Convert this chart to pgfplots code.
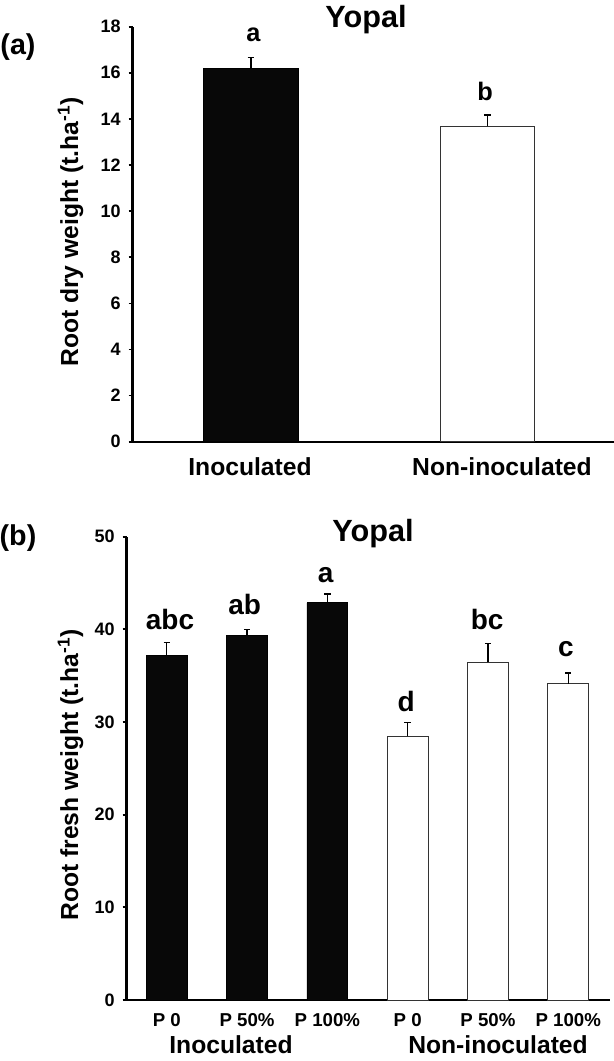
\documentclass[border=0pt]{standalone}
\usepackage{pgfplots}
\pgfplotsset{compat=1.18}
\usepackage{fontspec}
\setmainfont{Liberation Sans}
\newcommand\fs[1]{\fontsize{#1}{#1}\selectfont\bfseries}
\begin{document}
\begin{tikzpicture}
\useasboundingbox (0,0) rectangle (460.5pt,-795.75pt);
\pgfplotsset{
  common/.style={
    scale only axis, anchor=south west,
    axis x line*=bottom, axis y line*=left,
    axis line style={-, line width=1.8pt, black},
    ymin=0,
    tick align=outside, major tick length=3pt,
    ytick style={line width=1.3pt, black},
    xtick style={draw=none},
    /pgf/number format/assume math mode=true,
    yticklabel style={font=\fs{13.5}, xshift=-2.5pt},
    ybar, clip=false,
  },
  blackbar/.style={fill=black!97, draw=black, line width=0.6pt, bar shift=0pt,
    error bars/.cd, y dir=plus, y explicit,
    error bar style={line width=1pt, black},
    error mark options={rotate=90, mark size=2.4pt, line width=1pt, black}},
  whitebar/.style={fill=white, draw=black!80, line width=0.75pt, bar shift=0pt,
    error bars/.cd, y dir=plus, y explicit,
    error bar style={line width=1pt, black},
    error mark options={rotate=90, mark size=2.4pt, line width=1pt, black}},
}
% ---------- panel (a)
\begin{axis}[common, at={(99.5pt,-331.3pt)}, width=361pt, height=311.3pt,
  xmin=-0.5, xmax=1.535, ymax=18, ytick={0,2,...,18}, xtick=\empty, bar width=0.4]
\addplot[blackbar] coordinates {(0,16.19) +- (0,0.48)};
\addplot[whitebar] coordinates {(1,13.68) +- (0,0.49)};
\node[anchor=base, font=\fs{19}] at (axis cs:0.01,17.35) {a};
\node[anchor=base, font=\fs{19}] at (axis cs:0.99,14.82) {b};
\end{axis}
% ---------- panel (b)
\begin{axis}[common, at={(95pt,-750pt)}, width=362.5pt, height=347.5pt,
  xmin=-0.5, xmax=5.52, ymax=50, ytick={0,10,...,50}, bar width=0.51,
  xtick={0,...,5}, xticklabels={P 0, P 50\%, P 100\%, P 0, P 50\%, P 100\%},
  xticklabel style={font=\fs{14}, anchor=base, yshift=-17pt}]
\addplot[blackbar] coordinates {(0,37.2) +- (0,1.4) (1,39.3) +- (0,0.7) (2,42.86) +- (0,0.94)};
\addplot[whitebar] coordinates {(3,28.45) +- (0,1.51) (4,36.46) +- (0,1.98) (5,34.12) +- (0,1.18)};
\node[anchor=base, font=\fs{21}] at (axis cs:0.04,39.93) {abc};
\node[anchor=base, font=\fs{21}] at (axis cs:0.97,41.55) {ab};
\node[anchor=base, font=\fs{21}] at (axis cs:1.98,45.04) {a};
\node[anchor=base, font=\fs{21}] at (axis cs:2.98,31.1) {d};
\node[anchor=base, font=\fs{21}] at (axis cs:3.99,39.99) {bc};
\node[anchor=base, font=\fs{21}] at (axis cs:4.97,37.04) {c};
\end{axis}
% ---------- texts
\node[font=\fs{21.5}] at (13.5pt,-35.25pt) {(a)};
\node[font=\fs{21.5}] at (13.5pt,-403.5pt) {(b)};
\node[anchor=base, font=\fs{23}] at (274.5pt,-20.25pt) {Yopal};
\node[anchor=base, font=\fs{23}] at (279.75pt,-406.3pt) {Yopal};
\node[anchor=base, font=\fs{18.5}] at (187.5pt,-356.25pt) {Inoculated};
\node[anchor=base, font=\fs{18.5}] at (376.5pt,-356.25pt) {Non-inoculated};
\node[anchor=base, font=\fs{18.5}] at (173.25pt,-790pt) {Inoculated};
\node[anchor=base, font=\fs{18.5}] at (373.5pt,-790pt) {Non-inoculated};
\node[anchor=base, rotate=90, font=\fs{18.5}] at (58.5pt,-174pt) {Root dry weight (t.ha\textsuperscript{-1})};
\node[anchor=base, rotate=90, font=\fs{18.5}] at (58.5pt,-581.25pt) {Root fresh weight (t.ha\textsuperscript{-1})};
\end{tikzpicture}
\end{document}
